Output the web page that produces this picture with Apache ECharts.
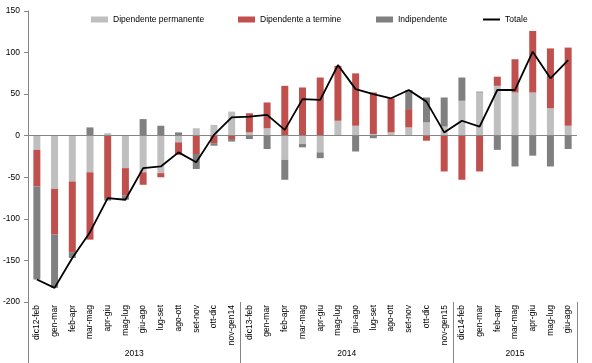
<!DOCTYPE html>
<html><head><meta charset="utf-8">
<script src="https://cdn.jsdelivr.net/npm/echarts@6/dist/echarts.min.js"></script>
<style>html,body{margin:0;padding:0;background:#fff}#c{width:592px;height:363px}</style>
</head><body><div id="c"></div>
<script>
const categories = ['dic12-feb','gen-mar','feb-apr','mar-mag','apr-giu','mag-lug','giu-ago','lug-set','ago-ott','set-nov','ott-dic','nov-gen14',
  'dic13-feb','gen-mar','feb-apr','mar-mag','apr-giu','mag-lug','giu-ago','lug-set','ago-ott','set-nov','ott-dic','nov-gen15',
  'dic14-feb','gen-mar','feb-apr','mar-mag','apr-giu','mag-lug','giu-ago'];
const permanente   = [-17,-64,-55,-44,3,-39,-44,-45,-8,9,13,29, 4,9,-29,-10,-20,18,12,2,4,10,16,11, 42,52,60,52,52,33,12];
const termine      = [-44,-55,-85,-81,-75,-33,-15,-5,-15,-22,-9,-4, 23,31,60,58,70,66,63,50,41,22,-6,-43, -53,-43,11,40,74,72,94];
const indipendente = [-112,-64,-7,10,-3,-5,20,12,4,-18,-3,-3, -4,-16,-24,-4,-7,0,-19,-3,0,23,30,35, 28,1,-17,-37,-24,-37,-16];
const totale       = [-173,-183,-147,-116,-75,-77,-39,-37,-20,-32,1,22, 23,25,7,44,43,85,56,50,45,55,41,4, 18,11,55,55,101,69,91];
const years = ['2013','2014','2015'];
const yearSizes = [12,12,7];
const yMin = -200, yMax = 150, yStep = 50;
const names = ['Dipendente permanente','Dipendente a termine','Indipendente','Totale'];
const colors = ['#bfbfbf','#c0504d','#808080','#000000'];

const groupStarts = [];
const yearCenters = {};
let acc = 0;
yearSizes.forEach((s,i)=>{ groupStarts.push(acc); yearCenters[acc + s/2] = years[i]; acc += s; });

const FONT = "'Liberation Sans', Arial, sans-serif";
const axisGray = '#868686';
const chart = echarts.init(document.getElementById('c'), null, {renderer:'canvas'});

const legendPos = [86, 233, 371, 478];
const legends = names.map((n,i)=>({
  data:[ i === 3 ? {name:n, icon:'rect', itemStyle:{color:'#000'}} : {name:n, icon:'rect'} ],
  left: legendPos[i], top: 10, itemWidth: 17, itemHeight: i === 3 ? 2 : 6, itemGap: 0,
  textStyle:{fontFamily:FONT, fontSize:8.5, color:'#000'}, selectedMode:false
}));

const barCommon = {type:'bar', stack:'a', barWidth:7, xAxisIndex:0, yAxisIndex:0};
chart.setOption({
  animation:false,
  color: colors,
  legend: legends,
  grid:{left:25, right:15, top:11, bottom:61, containLabel:false},
  xAxis:[
    {type:'category', data:categories, position:'bottom',
     axisLine:{show:false, onZero:false},
     axisTick:{show:true, interval:(idx)=>groupStarts.includes(idx), length:61, inside:false, lineStyle:{color:axisGray}},
     axisLabel:{interval:0, rotate:90, margin:3, fontFamily:FONT, fontSize:8.5, color:'#000'}},
    {type:'value', min:0, max:acc, interval:0.5, position:'bottom',
     axisLine:{show:false, onZero:false}, axisTick:{show:false}, splitLine:{show:false},
     axisLabel:{margin:47, fontFamily:FONT, fontSize:8.5, color:'#000', showMinLabel:true, showMaxLabel:true,
       formatter:(v)=> yearCenters[v] || ''}}
  ],
  yAxis:{type:'value', min:yMin, max:yMax, interval:yStep,
    axisLine:{show:true, lineStyle:{color:axisGray}},
    axisTick:{show:true, length:4, lineStyle:{color:axisGray}},
    splitLine:{show:false},
    axisLabel:{margin:8, fontFamily:FONT, fontSize:8.5, color:'#000'}},
  series:[
    Object.assign({}, barCommon, {name:names[0], data:permanente, itemStyle:{color:colors[0]},
      markLine:{silent:true, symbol:['none','none'], label:{show:false}, animation:false,
        lineStyle:{color:axisGray, type:'solid', width:1}, data:[{yAxis:0}]}}),
    Object.assign({}, barCommon, {name:names[1], data:termine, itemStyle:{color:colors[1]}}),
    Object.assign({}, barCommon, {name:names[2], data:indipendente, itemStyle:{color:colors[2]}}),
    {type:'line', name:names[3], data:totale, symbol:'none', z:5,
     lineStyle:{color:'#000', width:1.8}, itemStyle:{color:'#000'}}
  ]
});
</script></body></html>
